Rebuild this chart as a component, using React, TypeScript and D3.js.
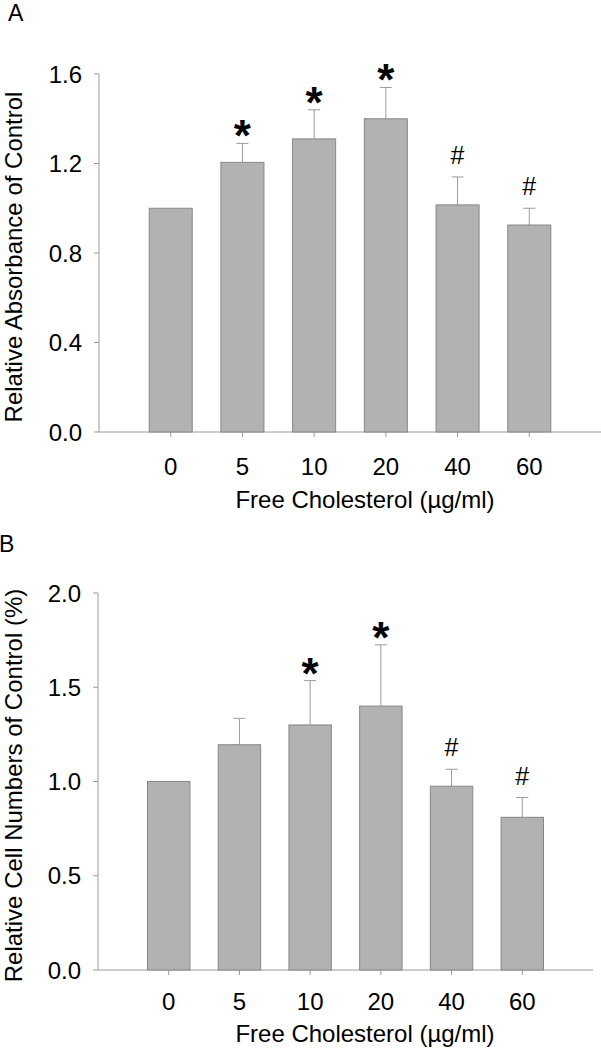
import { useRef, useEffect } from 'react';
import * as d3 from 'd3';

const doses = ['0', '5', '10', '20', '40', '60'];

const absorbanceMean = [1.0, 1.205, 1.31, 1.4, 1.015, 0.925];
const absorbanceErr = [0, 0.085, 0.13, 0.14, 0.125, 0.075];
const absorbanceMarks = ['', '*', '*', '*', '#', '#'];
const absorbanceTicks = [0, 0.4, 0.8, 1.2, 1.6];

const cellMean = [1.0, 1.195, 1.3, 1.4, 0.975, 0.81];
const cellErr = [0, 0.14, 0.235, 0.325, 0.09, 0.105];
const cellMarks = ['', '', '*', '*', '#', '#'];
const cellTicks = [0, 0.5, 1.0, 1.5, 2.0];

const FONT = '"Liberation Sans", Arial, sans-serif';
const FS = 24;

type Panel = {
  letter: string;
  letterX: number;
  letterY: number;
  left: number;
  right: number;
  top: number;
  bottom: number;
  means: number[];
  errs: number[];
  marks: string[];
  ticks: number[];
  yTitle: string;
  titleX: number;
  tickLabelGap: number;
  titleGap: number;
};

const panels: Panel[] = [
  {
    letter: 'A', letterX: 8, letterY: 21,
    left: 99, right: 601, top: 74, bottom: 432,
    means: absorbanceMean, errs: absorbanceErr, marks: absorbanceMarks, ticks: absorbanceTicks,
    yTitle: 'Relative Absorbance of Control', titleX: 365,
    tickLabelGap: 43, titleGap: 76,
  },
  {
    letter: 'B', letterX: -1, letterY: 552,
    left: 98, right: 593, top: 593, bottom: 970,
    means: cellMean, errs: cellErr, marks: cellMarks, ticks: cellTicks,
    yTitle: 'Relative Cell Numbers of Control (%)', titleX: 365,
    tickLabelGap: 40, titleGap: 72,
  },
];

const App = () => {
  const svgRef = useRef<SVGSVGElement | null>(null);

  useEffect(() => {
    if (!svgRef.current) return;
    const svg = d3.select(svgRef.current);
    svg.selectAll('*').remove();

    panels.forEach(p => {
      const g = svg.append('g');
      const step = (p.right - p.left) / 7;

      const x = d3.scaleBand<string>()
        .domain(doses)
        .range([p.left + step / 2, p.right - step / 2])
        .paddingInner(0.4)
        .paddingOuter(0.2);

      const y = d3.scaleLinear()
        .domain([0, p.ticks[p.ticks.length - 1]])
        .range([p.bottom, p.top]);

      const cx = (d: string) => x(d)! + x.bandwidth() / 2;

      // panel letter
      g.append('text')
        .attr('x', p.letterX)
        .attr('y', p.letterY)
        .attr('font-family', FONT)
        .attr('font-size', 23)
        .text(p.letter);

      // axes
      g.append('line')
        .attr('x1', p.left).attr('x2', p.left)
        .attr('y1', p.top).attr('y2', p.bottom)
        .attr('stroke', '#9a9a9a');
      g.append('line')
        .attr('x1', p.left).attr('x2', p.right)
        .attr('y1', p.bottom).attr('y2', p.bottom)
        .attr('stroke', '#9a9a9a');

      g.selectAll('.ytick')
        .data(p.ticks)
        .enter()
        .append('line')
        .attr('x1', p.left - 5).attr('x2', p.left)
        .attr('y1', d => y(d)).attr('y2', d => y(d))
        .attr('stroke', '#9a9a9a');

      g.selectAll('.ylab')
        .data(p.ticks)
        .enter()
        .append('text')
        .attr('x', p.left - 17)
        .attr('y', d => y(d))
        .attr('dy', '0.36em')
        .attr('text-anchor', 'end')
        .attr('font-family', FONT)
        .attr('font-size', FS)
        .text(d => d.toFixed(1));

      g.selectAll('.xtick')
        .data(doses)
        .enter()
        .append('line')
        .attr('x1', cx).attr('x2', cx)
        .attr('y1', p.bottom).attr('y2', p.bottom + 5)
        .attr('stroke', '#9a9a9a');

      g.selectAll('.xlab')
        .data(doses)
        .enter()
        .append('text')
        .attr('x', cx)
        .attr('y', p.bottom + p.tickLabelGap)
        .attr('text-anchor', 'middle')
        .attr('font-family', FONT)
        .attr('font-size', FS)
        .text(d => d);

      g.append('text')
        .attr('x', p.titleX)
        .attr('y', p.bottom + p.titleGap)
        .attr('text-anchor', 'middle')
        .attr('font-family', FONT)
        .attr('font-size', FS)
        .text('Free Cholesterol (\u00b5g/ml)');

      g.append('text')
        .attr('transform', `translate(22,${(p.top + p.bottom) / 2 + 4}) rotate(-90)`)
        .attr('text-anchor', 'middle')
        .attr('font-family', FONT)
        .attr('font-size', FS)
        .text(p.yTitle);

      // error bars (upper only)
      doses.forEach((d, i) => {
        if (!p.errs[i]) return;
        const top = y(p.means[i] + p.errs[i]);
        g.append('line')
          .attr('x1', cx(d)).attr('x2', cx(d))
          .attr('y1', y(p.means[i])).attr('y2', top)
          .attr('stroke', '#9a9a9a');
        g.append('line')
          .attr('x1', cx(d) - 6).attr('x2', cx(d) + 6)
          .attr('y1', top).attr('y2', top)
          .attr('stroke', '#9a9a9a');
      });

      // bars
      g.selectAll('.bar')
        .data(doses)
        .enter()
        .append('rect')
        .attr('x', d => x(d)!)
        .attr('y', (d, i) => y(p.means[i]))
        .attr('width', x.bandwidth())
        .attr('height', (d, i) => p.bottom - y(p.means[i]))
        .attr('fill', '#b2b2b2')
        .attr('stroke', '#878787')
        .attr('stroke-width', 1);

      // significance marks
      doses.forEach((d, i) => {
        const m = p.marks[i];
        if (!m) return;
        const capY = y(p.means[i] + p.errs[i]);
        if (m === '*') {
          g.append('text')
            .attr('x', cx(d))
            .attr('y', capY + 8)
            .attr('text-anchor', 'middle')
            .attr('font-family', FONT)
            .attr('font-weight', 'bold')
            .attr('font-size', 44)
            .text(m);
        } else {
          g.append('text')
            .attr('x', cx(d))
            .attr('y', capY - 13)
            .attr('text-anchor', 'middle')
            .attr('font-family', FONT)
            .attr('font-size', 25)
            .text(m);
        }
      });
    });
  }, []);

  return (
    <div style={{ position: 'absolute', left: 0, top: 0 }}>
      <svg ref={svgRef} width={601} height={1049} style={{ display: 'block', background: '#fff' }} />
    </div>
  );
};

export default App;
